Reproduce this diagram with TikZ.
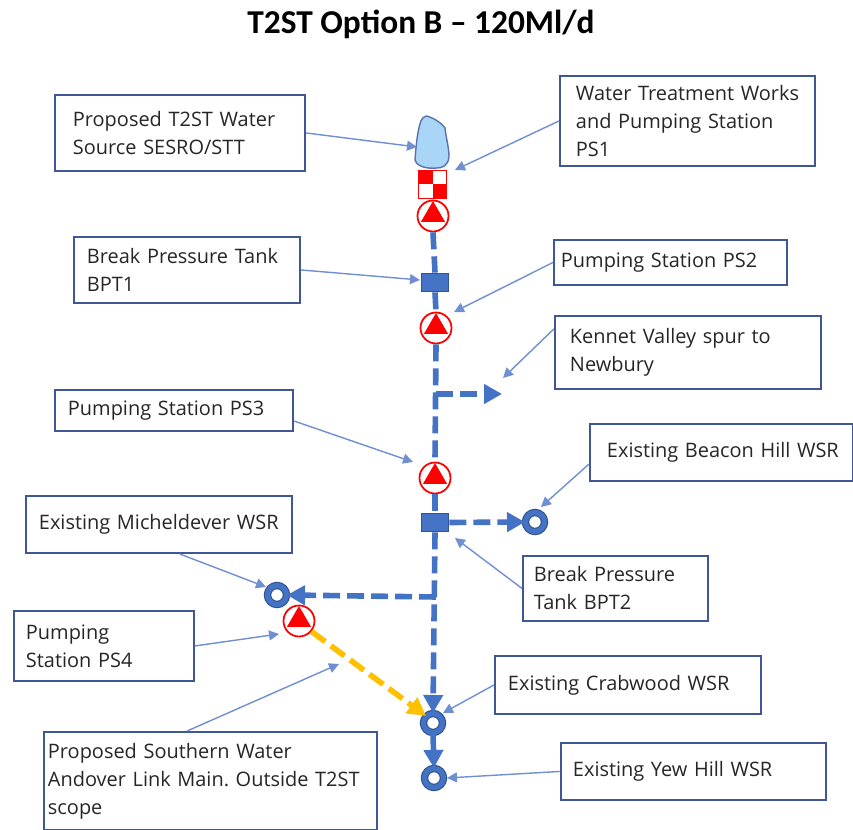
\documentclass[tikz,border=0pt]{standalone}
\usepackage{fontspec}
\setmainfont{Open Sans}
\newfontfamily\titlefont{Carlito}
\usetikzlibrary{arrows.meta,shapes.geometric}
\definecolor{boxblue}{HTML}{3F5796}
\definecolor{pipeblue}{HTML}{4472C4}
\definecolor{leadblue}{HTML}{6F8FD2}
\definecolor{lakeblue}{HTML}{A9D5F7}
\definecolor{linkorange}{HTML}{FFC000}
\tikzset{
      labelbox/.style n args={3}{
        anchor=north west,
        draw=boxblue,
        line width=1.1pt,
        fill=white,
        text=black!85,
        align=left,
        inner ysep=0pt,
        inner xsep=#3,
        text width=#1-2*#3,
        minimum height=#2,
        font=\fontsize{11.35}{16}\selectfont\frenchspacing
      },
      leader/.style={-{Triangle[length=0.2cm,width=0.2cm]}, color=leadblue, line width=0.8pt},
      pipe/.style={color=pipeblue, line width=3.2pt, dash pattern=on 0.34cm off 0.14cm},
      pipehead/.style={-{Triangle[length=0.36cm,width=0.38cm]}},
      tankbox/.style={draw=pipeblue!75!black, fill=pipeblue, line width=1pt, minimum width=0.54cm, minimum height=0.36cm, inner sep=0pt},
      reservoir/.style={circle, draw=pipeblue!70!black, double=pipeblue, double distance=3pt, fill=white, line width=0.6pt, minimum size=0.38cm, inner sep=0pt},
      pumpring/.style={circle, draw=red, fill=white, line width=1pt, minimum size=0.62cm, inner sep=0pt},
      pumphead/.style={regular polygon, regular polygon sides=3, fill=red, minimum size=0.56cm, inner sep=0pt}
    }

\begin{document}
\begin{tikzpicture}[x=0.02cm,y=-0.02cm]
    \useasboundingbox (0,0) rectangle (853,830);
    \node[font=\titlefont\bfseries\fontsize{19}{24}\selectfont, inner sep=0pt] (title) at (421,24) {T2ST Option B – 120Ml/d};
    % labels
    \node[labelbox={5cm}{1.52cm}{0.36cm}] (source) at (54,94) {Proposed T2ST Water\\Source SESRO/STT};
    \node[labelbox={5.1cm}{1.8cm}{0.32cm}] (wtw) at (559,75) {\mbox{Water Treatment Works}\\and Pumping Station\\PS1};
    \node[labelbox={4.52cm}{1.32cm}{0.26cm}] (bptone) at (73,236) {Break Pressure Tank\\BPT1};
    \node[labelbox={4.66cm}{0.9cm}{0.14cm}] (pstwo) at (553,239) {Pumping Station PS2};
    \node[labelbox={5.32cm}{1.46cm}{0.3cm}] (kennet) at (554,315) {Kennet Valley spur to\\Newbury};
    \node[labelbox={4.76cm}{0.82cm}{0.26cm}] (psthree) at (54,389) {Pumping Station PS3};
    \node[labelbox={5.26cm}{1.14cm}{0.34cm}] (beacon) at (589,423) {\mbox{Existing Beacon Hill WSR}};
    \node[labelbox={5.32cm}{1.14cm}{0.26cm}] (michel) at (25,495) {\mbox{Existing Micheldever WSR}};
    \node[labelbox={3.7cm}{1.3cm}{0.22cm}] (bpttwo) at (522,555) {Break Pressure\\Tank BPT2};
    \node[labelbox={3.6cm}{1.4cm}{0.24cm}] (psfour) at (13,610) {Pumping\\Station PS4};
    \node[labelbox={5.32cm}{1.16cm}{0.26cm}] (crabwood) at (494,655) {Existing Crabwood WSR};
    \node[labelbox={5.3cm}{1.14cm}{0.24cm}] (yewhill) at (560,742) {Existing Yew Hill WSR};
    \node[labelbox={6.66cm}{1.96cm}{0.08cm}] (andover) at (43,731) {Proposed Southern Water\\Andover Link Main. Outside T2ST\\scope};
    % lake and treatment works
    \draw[draw=leadblue!80!black, fill=lakeblue, line width=0.8pt] (427,116) .. controls (433,118) and (441,122) .. (445,128) .. controls (446,138) and (449,147) .. (449,157) .. controls (448,166) and (442,168) .. (437,168) .. controls (428,169) and (417,167) .. (415,160) .. controls (416,147) and (417,134) .. (420,124) .. controls (421,119) and (424,116) .. (427,116) -- cycle;
    \node[draw=red, fill=white, line width=1pt, minimum size=0.56cm, inner sep=0pt] (works) at (432.5,184.5) {};
    \fill[red] (works.north west) rectangle (works.center);
    \fill[red] (works.center) rectangle (works.south east);
    % pumps
    \foreach \name/\px/\py in {psa/433/216, psb/436/328, psc/435/478, psd/299/621}{
      \node[pumpring] (\name) at (\px,\py) {};
      \node[pumphead] (\name head) at (\px,\py-1) {};
    }
    % tanks and reservoirs
    \node[tankbox] (tanka) at (435,282.5) {};
    \node[tankbox] (tankb) at (435,522.5) {};
    \node[reservoir] (resbeacon) at (535,522) {};
    \node[reservoir] (resmichel) at (277,595) {};
    \node[reservoir] (rescrab) at (433,723) {};
    \node[reservoir] (resyew) at (434,778) {};
    \coordinate (spurjoin) at (436,394);
    \coordinate (spurend) at (502,394);
    \coordinate (michjoin) at (436,597);
    % pipes
    \draw[pipe] (psa.south) -- (tanka.north);
    \draw[pipe] (tanka.south) -- (psb.north);
    \draw[pipe] (psb.south) -- (psc.north);
    \draw[pipe] (psc.south) -- (tankb.north);
    \draw[pipe, pipehead] (tankb.south) -- (rescrab.north);
    \draw[pipe, pipehead] (spurjoin) -- (spurend);
    \draw[pipe, pipehead] (tankb.east) -- (resbeacon.west);
    \draw[pipe, pipehead] (michjoin) -- (resmichel.east);
    \draw[pipe, pipehead, dash pattern=] (rescrab.south) -- (resyew.north);
    \draw[pipe, pipehead, color=linkorange] (psd.-40) -- (rescrab.135);
    % leaders
    \coordinate (lakeend) at (417,147);
    \coordinate (wtwend) at (455,170);
    \coordinate (bptoneend) at (420,280);
    \coordinate (pstwoend) at (454,312);
    \coordinate (kennetend) at (503,378);
    \coordinate (psthreeend) at (413,462);
    \coordinate (beaconend) at (541,507);
    \coordinate (michelend) at (266,587);
    \coordinate (bpttwoend) at (455,538);
    \coordinate (psfourend) at (279,634);
    \coordinate (andoverend) at (339,664);
    \coordinate (crabend) at (443,713);
    \coordinate (yewend) at (447,778);
    \draw[leader] (source.east) -- (lakeend);
    \draw[leader] (wtw.west) -- (wtwend);
    \draw[leader] (bptone.east) -- (bptoneend);
    \draw[leader] (pstwo.west) -- (pstwoend);
    \draw[leader] (kennet.170) -- (kennetend);
    \draw[leader] (psthree.-5) -- (psthreeend);
    \draw[leader] (beacon.185) -- (beaconend);
    \draw[leader] (michel.-55) -- (michelend);
    \draw[leader] (bpttwo.west) -- (bpttwoend);
    \draw[leader] (psfour.east) -- (psfourend);
    \draw[leader] (andover.115) -- (andoverend);
    \draw[leader] (crabwood.west) -- (crabend);
    \draw[leader] (yewhill.west) -- (yewend);
    \end{tikzpicture}
\end{document}
